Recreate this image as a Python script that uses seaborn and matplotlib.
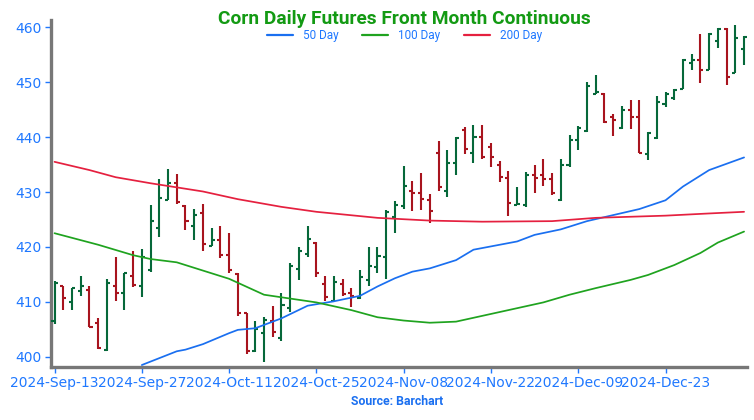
import numpy as np
import pandas as pd
import seaborn as sns
from matplotlib import pyplot as plt
from matplotlib.lines import Line2D

# ---- data ----
opens = [406.5, 412.9, 410.0, 411.9, 412.2, 406.1, 401.3, 412.8, 411.7, 414.7,
         412.8, 415.8, 423.4, 428.5, 431.6, 427.5, 423.8, 426.1, 420.1, 421.2,
         418.5, 415.0, 407.9, 401.1, 404.3, 406.6, 403.4, 408.8, 415.9, 418.7,
         420.7, 413.3, 410.1, 413.3, 411.6, 410.7, 414.0, 416.4, 418.1, 425.5,
         427.5, 430.2, 429.8, 428.5, 437.1, 430.1, 435.3, 441.3, 437.1, 440.1,
         438.2, 434.9, 432.5, 427.7, 427.6, 433.1, 433.1, 432.3, 428.5, 434.9,
         439.5, 441.1, 447.9, 447.9, 443.6, 441.6, 445.0, 443.7, 437.0, 439.8,
         446.1, 447.2, 448.7, 453.5, 454.0, 452.3, 457.5, 459.6, 451.7, 456.0]
highs = [413.8, 412.9, 412.5, 414.7, 412.9, 407.0, 414.1, 418.1, 415.3, 419.3,
         419.7, 427.6, 432.3, 434.2, 433.3, 427.6, 426.9, 427.9, 423.4, 423.8,
         422.6, 415.2, 407.9, 406.6, 407.3, 409.3, 411.7, 417.0, 419.9, 423.8,
         420.9, 414.7, 414.7, 414.1, 412.6, 415.8, 419.9, 419.9, 426.7, 428.4,
         434.8, 432.0, 433.5, 429.6, 439.3, 437.6, 440.1, 441.9, 442.2, 442.2,
         439.0, 435.6, 433.9, 431.0, 433.7, 435.0, 436.1, 433.5, 436.0, 440.4,
         442.0, 450.1, 451.4, 448.1, 444.3, 445.7, 446.8, 446.7, 441.0, 447.5,
         448.2, 448.8, 454.3, 455.2, 458.7, 459.0, 459.9, 459.8, 460.5, 458.5]
lows = [406.0, 408.5, 408.5, 411.0, 405.4, 401.5, 401.1, 410.1, 408.5, 412.7,
        410.8, 415.5, 421.8, 428.5, 427.8, 423.1, 421.3, 419.3, 420.1, 418.0,
        415.3, 407.5, 400.5, 400.9, 399.0, 403.6, 402.9, 408.2, 413.9, 418.1,
        414.6, 410.1, 409.9, 411.0, 409.1, 410.5, 412.9, 415.2, 414.1, 422.5,
        427.0, 426.5, 426.7, 424.4, 430.1, 429.1, 433.1, 437.0, 435.2, 436.1,
        434.5, 431.9, 425.6, 427.6, 427.3, 429.9, 431.1, 429.5, 428.4, 434.6,
        437.6, 441.0, 447.8, 442.6, 440.2, 441.4, 441.4, 437.1, 435.8, 439.6,
        445.4, 446.8, 448.7, 452.3, 449.9, 452.2, 456.3, 449.5, 451.6, 453.1]
closes = [413.5, 410.7, 412.5, 412.8, 405.5, 401.6, 413.4, 411.7, 415.2, 413.1,
          418.1, 424.7, 429.0, 431.6, 428.2, 424.7, 425.9, 420.5, 421.2, 418.5,
          415.8, 407.9, 401.0, 405.0, 406.7, 404.6, 409.5, 416.5, 419.3, 421.4,
          415.2, 410.9, 413.7, 411.5, 411.0, 414.6, 416.6, 418.4, 426.4, 427.6,
          431.1, 429.9, 428.7, 426.5, 430.9, 435.3, 439.8, 437.8, 440.1, 436.3,
          436.3, 432.7, 428.0, 427.9, 433.1, 432.5, 432.3, 429.9, 435.0, 439.5,
          441.6, 449.3, 448.2, 442.8, 443.2, 445.0, 443.7, 437.1, 440.8, 446.4,
          447.8, 448.5, 454.0, 454.1, 452.3, 458.7, 459.6, 450.9, 458.0, 458.2]

# moving averages (bar index, value)
ma50_x = [10, 14, 15, 17, 20, 21, 23, 26, 29, 32, 35, 37, 39, 41, 43, 46, 48, 53, 55,
          58, 61, 64, 67, 70, 72, 75, 79]
ma50_y = [398.5, 401.0, 401.3, 402.3, 404.3, 404.9, 405.2, 407.0, 409.3, 410.1, 411.1,
          412.8, 414.3, 415.5, 416.1, 417.6, 419.5, 421.0, 422.2, 423.2, 424.7, 425.8,
          426.9, 428.5, 431.0, 434.0, 436.3]
ma100_x = [0, 5, 9, 11, 14, 17, 20, 24, 27, 30, 34, 37, 40, 43, 46, 50, 56, 59, 62,
           66, 68, 71, 74, 76, 79]
ma100_y = [422.5, 420.4, 418.5, 417.8, 417.2, 415.7, 414.2, 411.3, 410.6, 409.9, 408.5,
           407.2, 406.6, 406.2, 406.4, 407.8, 409.9, 411.3, 412.5, 414.0, 414.9, 416.7,
           418.9, 420.8, 422.8]
ma200_x = [0, 4, 7, 11, 17, 21, 26, 30, 37, 43, 49, 57, 62, 70, 75, 79]
ma200_y = [435.5, 434.0, 432.7, 431.6, 430.1, 428.7, 427.3, 426.4, 425.3, 424.8, 424.6,
           424.7, 425.3, 425.7, 426.1, 426.4]

tick_labels = ["2024-Sep-13", "2024-Sep-27", "2024-Oct-11", "2024-Oct-25",
               "2024-Nov-08", "2024-Nov-22", "2024-Dec-09", "2024-Dec-23"]

# ---- style ----
BLUE_TXT = "#1f78ff"
UP = "#06683a"
DOWN = "#a8141e"

sns.set_theme(style="white")
plt.rcParams['font.family'] = ['DejaVu Sans']

fig = plt.figure(figsize=(7.54, 4.2), dpi=100)
ax = fig.add_axes([0.0676, 0.127, 0.9227, 0.825])

df = pd.DataFrame({"open": opens, "high": highs, "low": lows, "close": closes})
df["i"] = np.arange(len(df))
bar_cols = np.where(df["close"] >= df["open"], UP, DOWN)
ax.vlines(df["i"], df["low"], df["high"], colors=bar_cols, linewidth=1.5, zorder=3)
ax.hlines(df["open"], df["i"] - 0.35, df["i"], colors=bar_cols, linewidth=1.5, zorder=3)
ax.hlines(df["close"], df["i"], df["i"] + 0.35, colors=bar_cols, linewidth=1.5, zorder=3)

ma = pd.concat([
    pd.DataFrame({"x": ma50_x, "y": ma50_y, "s": "50 Day"}),
    pd.DataFrame({"x": ma100_x, "y": ma100_y, "s": "100 Day"}),
    pd.DataFrame({"x": ma200_x, "y": ma200_y, "s": "200 Day"}),
])
line_cols = {"50 Day": "#1a6ff0", "100 Day": "#1fa31f", "200 Day": "#e5203f"}
sns.lineplot(data=ma, x="x", y="y", hue="s", palette=line_cols, linewidth=1.25,
             legend=False, ax=ax, zorder=4)

ax.set_xlim(-0.41, 79.3)
ax.set_ylim(398.2, 461.3)
ax.set_xticks(range(0, 80, 10))
ax.set_xticklabels(tick_labels)
ax.set_yticks(range(400, 461, 10))
ax.set_xlabel("")
ax.set_ylabel("")
ax.tick_params(axis="both", colors=BLUE_TXT, labelsize=10, length=4, width=1,
               direction="out", bottom=True, left=True, pad=3)
for s in ["top", "right"]:
    ax.spines[s].set_visible(False)
for s in ["left", "bottom"]:
    ax.spines[s].set_color("#777777")
    ax.spines[s].set_linewidth(2.4)

fig.text(0.536, 0.955, "Corn Daily Futures Front Month Continuous", color="#139a13",
         fontsize=13.8, fontweight="bold", family="Roboto", ha="center", va="center")
handles = [Line2D([], [], color=line_cols[k], linewidth=1.6) for k in line_cols]
leg = fig.legend(handles, list(line_cols), loc="center", bbox_to_anchor=(0.536, 0.915),
                 ncol=3, frameon=False, handlelength=2.2, columnspacing=2.0,
                 handletextpad=0.85, prop={"family": "Roboto", "size": 8.5})
for t in leg.get_texts():
    t.set_color(BLUE_TXT)
fig.text(0.527, 0.043, "Source: Barchart", color="#1a6ff0", fontsize=8.8,
         fontweight="bold", family="Roboto", ha="center", va="center")

plt.savefig("out.png", dpi=100)
